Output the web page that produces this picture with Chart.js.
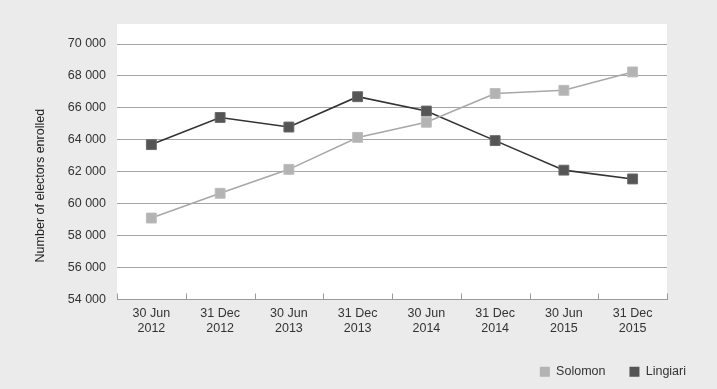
<!DOCTYPE html>
<html>
<head>
<meta charset="utf-8">
<script src="https://cdn.jsdelivr.net/npm/chart.js@4"></script>
<style>
  html, body { margin: 0; padding: 0; background: #ebebeb; }
  #wrap { width: 717px; height: 389px; }
</style>
</head>
<body>
<div id="wrap"><canvas id="electors-chart" width="717" height="389"></canvas></div>
<script>
const dates = [
    ['30 Jun', '2012'], ['31 Dec', '2012'], ['30 Jun', '2013'], ['31 Dec', '2013'],
    ['30 Jun', '2014'], ['31 Dec', '2014'], ['30 Jun', '2015'], ['31 Dec', '2015']
];
const solomon = [59100, 60650, 62150, 64150, 65100, 66900, 67100, 68250];
const lingiari = [63700, 65400, 64800, 66700, 65800, 63950, 62100, 61550];
const yTicks = [54000, 56000, 58000, 60000, 62000, 64000, 66000, 68000, 70000];

const FONT = 'Liberation Sans, Arial, Helvetica, sans-serif';

function spaced(v) {
    return String(v).replace(/\B(?=(\d{3})+(?!\d))/g, ' ');
}

// grey page, white plot panel that runs a little above the top gridline
const panel = {
    id: 'panel',
    beforeDraw(chart) {
        const {ctx, chartArea: a} = chart;
        ctx.save();
        ctx.fillStyle = '#ebebeb';
        ctx.fillRect(0, 0, chart.width, chart.height);
        ctx.fillStyle = '#ffffff';
        ctx.fillRect(a.left, a.top - 20, a.right - a.left, a.bottom - a.top + 20);
        ctx.restore();
    },
    beforeDatasetsDraw(chart) {
        // small upward ticks on the category boundaries
        const {ctx, chartArea: a} = chart;
        const x = chart.scales.x;
        const n = dates.length;
        ctx.save();
        ctx.strokeStyle = '#9a9a9a';
        ctx.lineWidth = 1;
        ctx.beginPath();
        for (let i = 0; i <= n; i++) {
            let px;
            if (i === 0) px = a.left;
            else if (i === n) px = a.right;
            else px = (x.getPixelForValue(i - 1) + x.getPixelForValue(i)) / 2;
            px = Math.round(px) + 0.5;
            ctx.moveTo(px, a.bottom);
            ctx.lineTo(px, a.bottom - 6);
        }
        ctx.stroke();
        ctx.restore();
    }
};

const ctx = document.getElementById('electors-chart');
new Chart(ctx, {
    type: 'line',
    data: {
        labels: dates,
        datasets: [{
            label: 'Solomon',
            data: solomon,
            borderColor: '#a8a8a8',
            backgroundColor: '#b3b3b3',
            borderWidth: 1.6,
            pointStyle: 'rect',
            pointRadius: 7,
            pointBackgroundColor: '#b3b3b3',
            pointBorderColor: '#bdbdbd',
            pointBorderWidth: 1,
            tension: 0
        }, {
            label: 'Lingiari',
            data: lingiari,
            borderColor: '#333333',
            backgroundColor: '#555555',
            borderWidth: 1.6,
            pointStyle: 'rect',
            pointRadius: 7,
            pointBackgroundColor: '#555555',
            pointBorderColor: '#6a6a6a',
            pointBorderWidth: 1,
            tension: 0
        }]
    },
    options: {
        responsive: false,
        animation: false,
        layout: {
            padding: {left: 33, top: 44, right: 7, bottom: 1}
        },
        plugins: {
            legend: {
                position: 'bottom',
                align: 'end',
                labels: {
                    boxWidth: 10,
                    boxHeight: 10,
                    padding: 24,
                    color: '#333333',
                    font: {family: FONT, size: 12.5},
                    generateLabels(chart) {
                        return chart.data.datasets.map((ds, i) => ({
                            text: ds.label,
                            fillStyle: ds.pointBackgroundColor,
                            strokeStyle: ds.pointBackgroundColor,
                            lineWidth: 0,
                            fontColor: '#333333',
                            datasetIndex: i
                        }));
                    }
                }
            },
            tooltip: {enabled: false}
        },
        scales: {
            x: {
                offset: true,
                grid: {display: false, drawTicks: false},
                border: {display: true, color: '#9a9a9a', width: 1},
                ticks: {
                    color: '#333333',
                    padding: 7,
                    maxRotation: 0,
                    autoSkip: false,
                    font: {family: FONT, size: 12.5, lineHeight: 1.2}
                },
                afterFit(scale) { scale.height = 42; }
            },
            y: {
                min: yTicks[0],
                max: yTicks[yTicks.length - 1],
                afterBuildTicks(scale) {
                    scale.ticks = yTicks.map(v => ({value: v}));
                },
                grid: {color: '#a6a6a6', lineWidth: 1, drawTicks: false},
                border: {display: false},
                ticks: {
                    color: '#333333',
                    padding: 11,
                    font: {family: FONT, size: 12.5},
                    callback: v => spaced(v)
                },
                title: {
                    display: true,
                    text: 'Number of electors enrolled        ',
                    color: '#222222',
                    padding: {top: 0, bottom: 0},
                    font: {family: FONT, size: 12.5}
                },
                afterFit(scale) { scale.width = 84; }
            },
            y2: {
                position: 'right',
                display: true,
                grid: {display: false},
                border: {display: false},
                ticks: {display: false},
                afterFit(scale) { scale.width = 43; }
            }
        }
    },
    plugins: [panel]
});
</script>
</body>
</html>
